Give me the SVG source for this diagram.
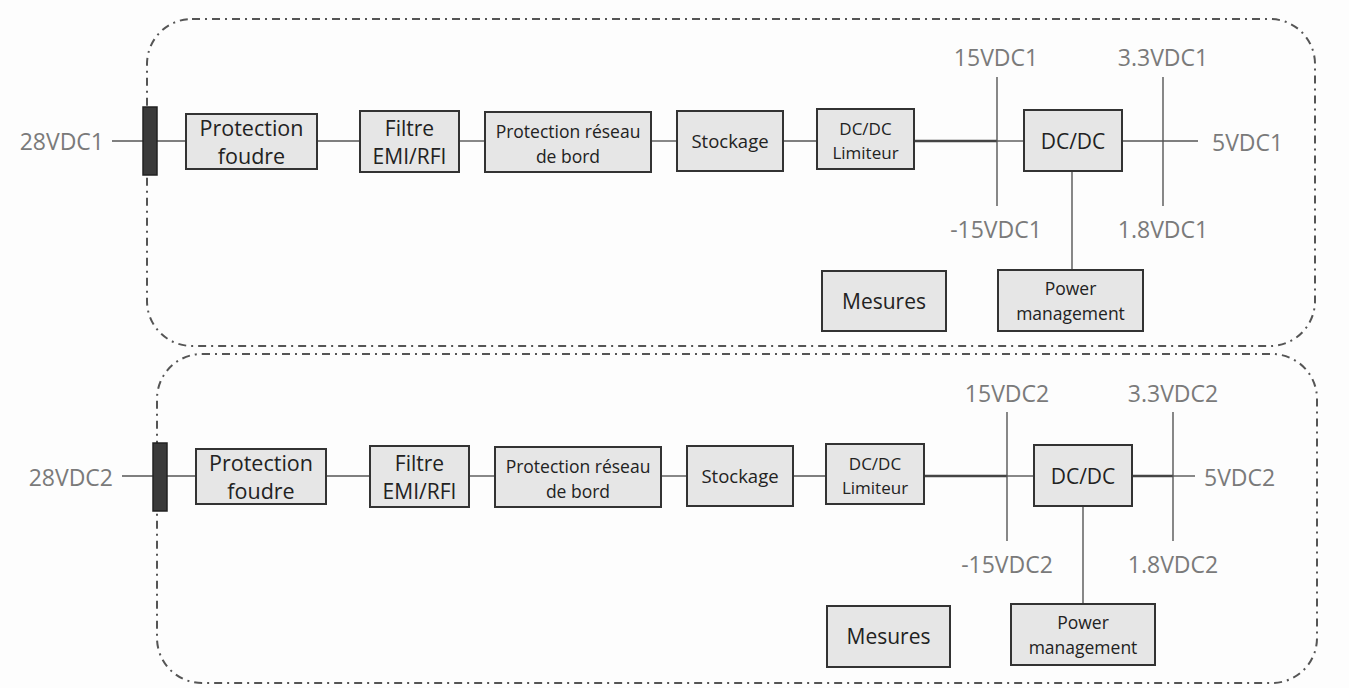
<svg xmlns="http://www.w3.org/2000/svg" width="1349" height="688" viewBox="0 0 1349 688">
<style>
.frame{fill:none;stroke:#555;stroke-width:2;stroke-dasharray:8 5 2 5}
.box{fill:#e6e6e6;stroke:#333;stroke-width:2}
.bar{fill:#3a3a3a;stroke:#222;stroke-width:1.5}
.ln{stroke:#555;stroke-width:1.4;fill:none}
.thk{stroke:#444;stroke-width:2.6;fill:none}
.t{font-family:"Open Sans","Noto Sans",sans-serif;fill:#222;text-anchor:middle}
.v{font-family:"Open Sans","Noto Sans",sans-serif;fill:#7a7a7a;font-size:23px}
</style>
<rect width="1349" height="688" fill="#fdfdfd"/>
<rect class="frame" x="147" y="19" width="1168" height="327" rx="45"/>
<rect class="frame" x="157" y="354" width="1160" height="329" rx="45"/>

<g id="connectors">
<line class="ln" x1="112" y1="141" x2="186" y2="141"/>
<line class="ln" x1="317" y1="141" x2="360" y2="141"/>
<line class="ln" x1="459" y1="141" x2="485" y2="141"/>
<line class="ln" x1="651" y1="141" x2="677" y2="141"/>
<line class="ln" x1="783" y1="141" x2="817" y2="141"/>
<line class="thk" x1="914" y1="141" x2="997" y2="141"/>
<line class="ln" x1="997" y1="141" x2="1024" y2="141"/>
<line class="ln" x1="997" y1="77" x2="997" y2="206"/>
<line class="ln" x1="1122" y1="141" x2="1198" y2="141"/>
<line class="ln" x1="1163" y1="77" x2="1163" y2="206"/>
<line class="ln" x1="1072" y1="171" x2="1072" y2="270"/>

<line class="ln" x1="122" y1="476" x2="196" y2="476"/>
<line class="ln" x1="326" y1="476" x2="370" y2="476"/>
<line class="ln" x1="469" y1="476" x2="495" y2="476"/>
<line class="ln" x1="661" y1="476" x2="687" y2="476"/>
<line class="ln" x1="793" y1="476" x2="826" y2="476"/>
<line class="thk" x1="924" y1="476" x2="1007" y2="476"/>
<line class="ln" x1="1007" y1="476" x2="1034" y2="476"/>
<line class="ln" x1="1007" y1="412" x2="1007" y2="541"/>
<line class="thk" x1="1132" y1="476" x2="1173" y2="476"/>
<line class="ln" x1="1173" y1="476" x2="1195" y2="476"/>
<line class="ln" x1="1173" y1="412" x2="1173" y2="541"/>
<line class="ln" x1="1083" y1="506" x2="1083" y2="604"/>
</g>

<g id="bar1"><rect class="bar" x="143" y="107" width="14" height="68"/></g>
<g id="in1"><text class="v" x="104" y="150" text-anchor="end">28VDC1</text></g>
<g id="pf1"><rect class="box" x="186" y="114" width="131" height="55"/><text class="t" x="251.5" y="136" font-size="21.5">Protection</text><text class="t" x="251.5" y="164" font-size="21.5">foudre</text></g>
<g id="emi1"><rect class="box" x="360" y="111" width="99" height="61"/><text class="t" x="409.5" y="136" font-size="21">Filtre</text><text class="t" x="409.5" y="164" font-size="21">EMI/RFI</text></g>
<g id="prb1"><rect class="box" x="485" y="112" width="166" height="60"/><text class="t" x="568" y="138" font-size="17.5">Protection réseau</text><text class="t" x="568" y="163" font-size="17.5">de bord</text></g>
<g id="sto1"><rect class="box" x="677" y="111" width="106" height="60"/><text class="t" x="730" y="148" font-size="18.5">Stockage</text></g>
<g id="lim1"><rect class="box" x="817" y="109" width="97" height="60"/><text class="t" x="865.5" y="135" font-size="17">DC/DC</text><text class="t" x="865.5" y="159" font-size="17">Limiteur</text></g>
<g id="dcdc1"><rect class="box" x="1024" y="110" width="98" height="61"/><text class="t" x="1073" y="149" font-size="21">DC/DC</text></g>
<g id="pm1"><rect class="box" x="998" y="270" width="145" height="61"/><text class="t" x="1070.5" y="295" font-size="17.5">Power</text><text class="t" x="1070.5" y="320" font-size="17.5">management</text></g>
<g id="mes1"><rect class="box" x="822" y="271" width="124" height="60"/><text class="t" x="884" y="309" font-size="21">Mesures</text></g>
<g id="labels1">
<text class="v" x="996" y="66" text-anchor="middle">15VDC1</text>
<text class="v" x="1163" y="66" text-anchor="middle">3.3VDC1</text>
<text class="v" x="996" y="238" text-anchor="middle">-15VDC1</text>
<text class="v" x="1163" y="238" text-anchor="middle">1.8VDC1</text>
<text class="v" x="1212" y="151">5VDC1</text>
</g>

<g id="bar2"><rect class="bar" x="153" y="443" width="14" height="68"/></g>
<g id="in2"><text class="v" x="113" y="486" text-anchor="end">28VDC2</text></g>
<g id="pf2"><rect class="box" x="196" y="449" width="130" height="55"/><text class="t" x="261" y="471" font-size="21.5">Protection</text><text class="t" x="261" y="499" font-size="21.5">foudre</text></g>
<g id="emi2"><rect class="box" x="370" y="446" width="99" height="61"/><text class="t" x="419.5" y="471" font-size="21">Filtre</text><text class="t" x="419.5" y="499" font-size="21">EMI/RFI</text></g>
<g id="prb2"><rect class="box" x="495" y="447" width="166" height="60"/><text class="t" x="578" y="473" font-size="17.5">Protection réseau</text><text class="t" x="578" y="498" font-size="17.5">de bord</text></g>
<g id="sto2"><rect class="box" x="687" y="446" width="106" height="60"/><text class="t" x="740" y="483" font-size="18.5">Stockage</text></g>
<g id="lim2"><rect class="box" x="826" y="444" width="98" height="60"/><text class="t" x="875" y="470" font-size="17">DC/DC</text><text class="t" x="875" y="494" font-size="17">Limiteur</text></g>
<g id="dcdc2"><rect class="box" x="1034" y="445" width="98" height="61"/><text class="t" x="1083" y="484" font-size="21">DC/DC</text></g>
<g id="pm2"><rect class="box" x="1011" y="604" width="144" height="61"/><text class="t" x="1083" y="629" font-size="17.5">Power</text><text class="t" x="1083" y="654" font-size="17.5">management</text></g>
<g id="mes2"><rect class="box" x="827" y="606" width="123" height="61"/><text class="t" x="888.5" y="644" font-size="21">Mesures</text></g>
<g id="labels2">
<text class="v" x="1007" y="402" text-anchor="middle">15VDC2</text>
<text class="v" x="1173" y="402" text-anchor="middle">3.3VDC2</text>
<text class="v" x="1007" y="573" text-anchor="middle">-15VDC2</text>
<text class="v" x="1173" y="573" text-anchor="middle">1.8VDC2</text>
<text class="v" x="1204" y="486">5VDC2</text>
</g>
</svg>
